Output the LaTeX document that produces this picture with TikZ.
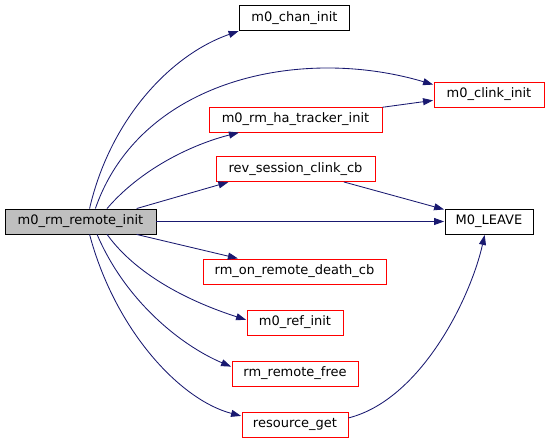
\documentclass[tikz,border=0pt]{standalone}
\usepackage{fontspec}
\setmainfont{DejaVu Sans}
\usetikzlibrary{arrows.meta}

\definecolor{edgeblue}{HTML}{191970}
\definecolor{boxred}{HTML}{FF0000}
\definecolor{boxgray}{HTML}{BFBFBF}

\tikzset{
  fn/.style={draw=black, fill=white, line width=0.9pt, minimum height=25pt,
    inner sep=0pt, font=\fontsize{13}{15}\selectfont},
  fnred/.style={fn, draw=boxred},
  fnmain/.style={fn, fill=boxgray},
  call/.style={draw=edgeblue, line width=0.85pt,
    -{Triangle[length=10pt,width=7pt]}, shorten >=0.5pt}
}

\begin{document}
\begin{tikzpicture}[x=1pt,y=-1pt]
        \useasboundingbox (0,0) rectangle (549,443);
        \node[fnmain, minimum width=151pt] (main) at (80.5,221.5) {m0\_rm\_remote\_init};
        \node[fn, minimum width=110pt] (chan) at (294.5,18) {m0\_chan\_init};
        \node[fnred, minimum width=110pt] (clink) at (489,94.5) {m0\_clink\_init};
        \node[fnred, minimum width=173pt] (tracker) at (295.5,119.5) {m0\_rm\_ha\_tracker\_init};
        \node[fnred, minimum width=159pt] (rev) at (295.5,169) {rev\_session\_clink\_cb};
        \node[fn, minimum width=88pt] (leave) at (489,221.5) {M0\_LEAVE};
        \node[fnred, minimum width=183pt] (death) at (294.5,271.5) {rm\_on\_remote\_death\_cb};
        \node[fnred, minimum width=96pt] (ref) at (295,322.5) {m0\_ref\_init};
        \node[fnred, minimum width=126pt] (free) at (295,373.5) {rm\_remote\_free};
        \node[fnred, minimum width=106pt] (resget) at (295,424.5) {resource\_get};
        % calls from m0_rm_remote_init
        \draw[call] (main.55) .. controls (110,120) and (170,55) .. (chan.south west);
        \draw[call] (main.41) .. controls (140,80) and (300,45) .. (clink.170);
        \draw[call] (main.26) .. controls (140,170) and (190,145) .. (tracker.-167);
        \draw[call] (main.13) -- (rev.-169);
        \draw[call] (main.east) -- (leave.west);
        \draw[call] (main.-13) -- (death.167);
        \draw[call] (main.-26) .. controls (140,280) and (200,305) .. (ref.177);
        \draw[call] (main.-38) .. controls (125,300) and (180,345) .. (free.174);
        \draw[call] (main.-55) .. controls (115,330) and (180,400) .. (resget.171);
        % further calls
        \draw[call] (tracker.8) -- (clink.-174);
        \draw[call] (rev.-15) -- (leave.165);
        \draw[call] (resget.7) .. controls (420,400) and (470,300) .. (leave.-108);
\end{tikzpicture}
\end{document}
